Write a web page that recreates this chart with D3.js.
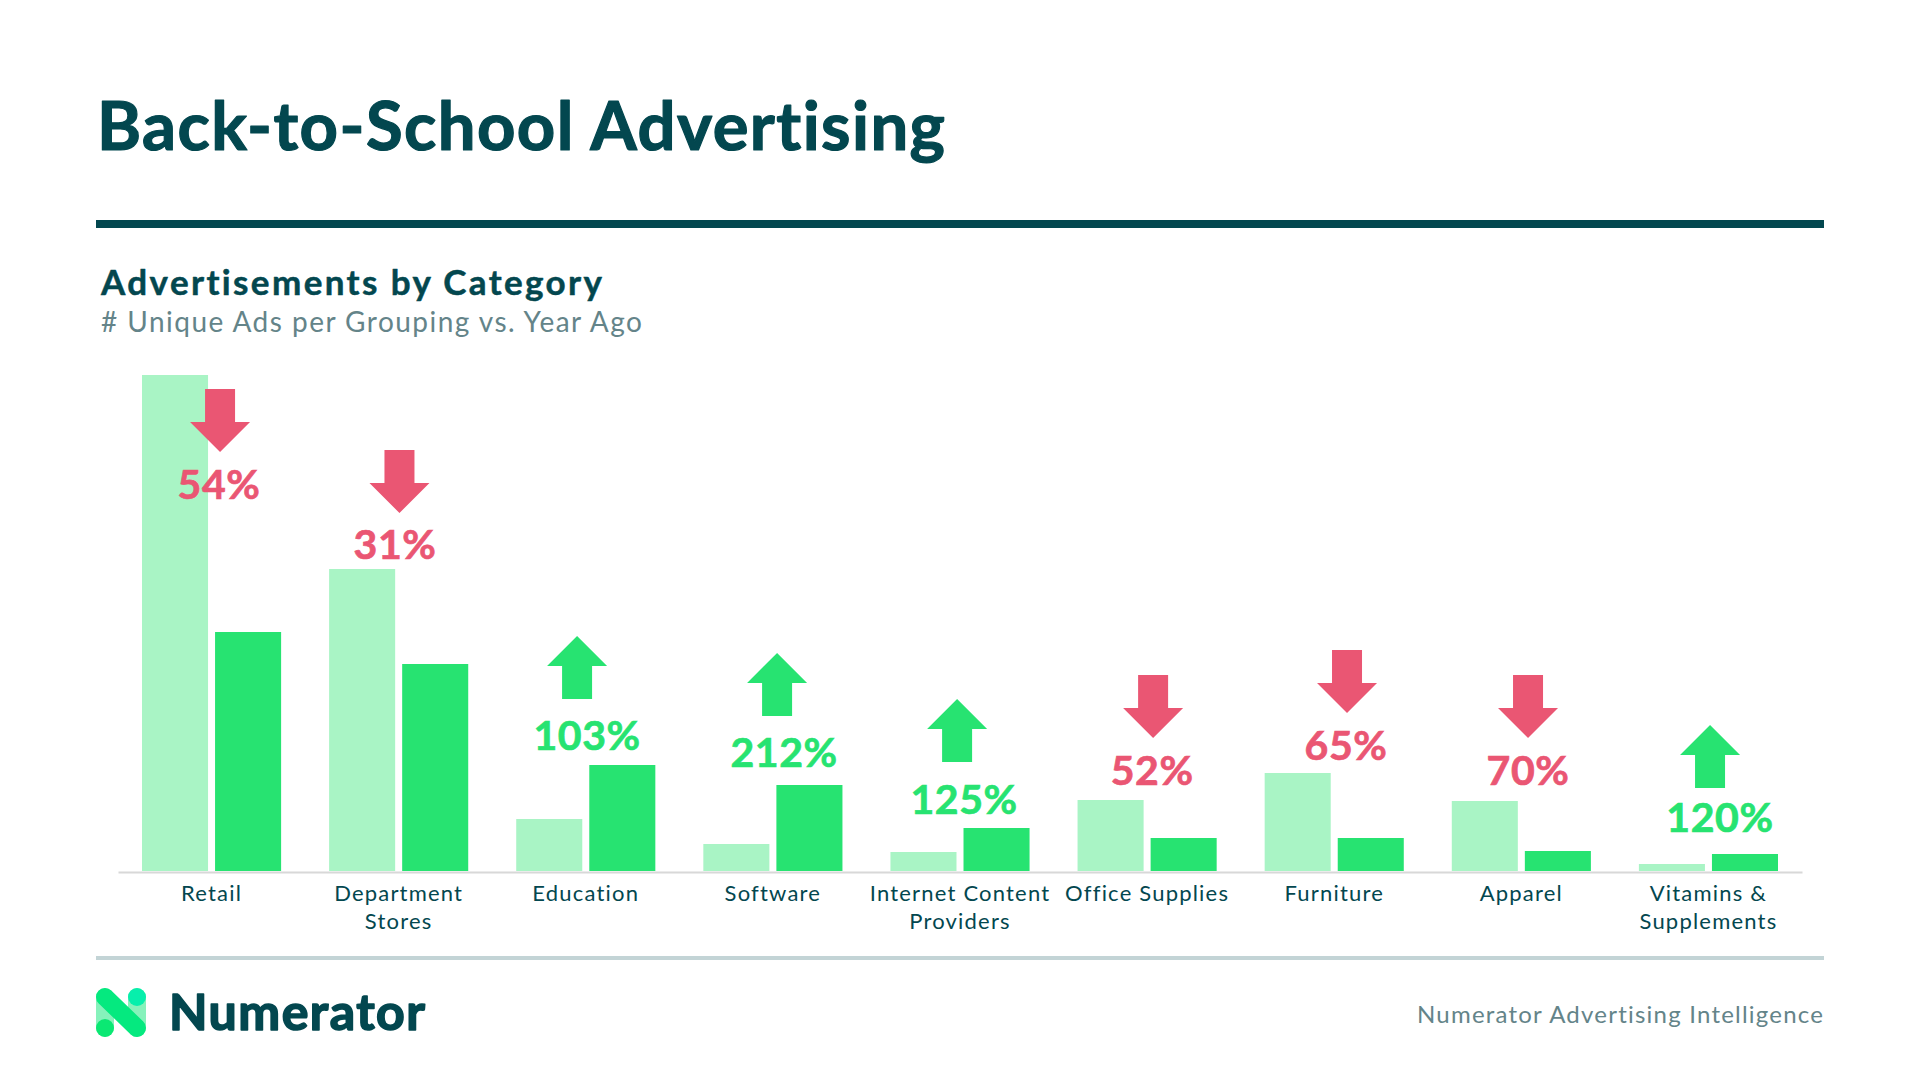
<!DOCTYPE html>
<html>
<head>
<meta charset="utf-8">
<title>Back-to-School Advertising</title>
<script src="https://cdn.jsdelivr.net/npm/d3@7"></script>
<style>
  html, body { margin: 0; padding: 0; background: #fff; }
  svg { display: block; }
  text { font-family: Lato, "Open Sans", sans-serif; font-variant-ligatures: none; }
</style>
</head>
<body>
<svg id="chart" width="1920" height="1080"></svg>
<script>
// values, no axis in the original so the unit is arbitrary
const categories = ["Retail", "Department Stores", "Education", "Software", "Internet Content Providers",
  "Office Supplies", "Furniture", "Apparel", "Vitamins & Supplements"];
const tickLines = [["Retail"], ["Department", "Stores"], ["Education"], ["Software"], ["Internet Content", "Providers"],
  ["Office Supplies"], ["Furniture"], ["Apparel"], ["Vitamins &", "Supplements"]];
const yearAgo = [496, 302, 52, 27, 19, 71, 98, 70, 7];
const current = [239, 207, 106, 86, 43, 33, 33, 20, 17];
const changeLabels = ["54%", "31%", "103%", "212%", "125%", "52%", "65%", "70%", "120%"];
const changeUp = [false, false, true, true, true, false, false, false, true];

const DARK = "#03474f", GREEN = "#27e371", PALE = "#a9f4c5", RED = "#ea5673", GREY = "#648489";

// the arrows and labels were placed by hand in the original, so they need nudging per group
const arrowShift = [8.5, 0.8, -8.7, 4.2, -2.9, 6, 12.8, 6.7, 1.6];
const labelShift = [7.5, -3.6, 1.3, 11.2, 4.1, 5, 11.8, 6.7, 11.6];
const arrowLift = [-14, 119, 129, 132, 129, 125, 123, 126, 129];
const labelLift = [-124, 10, 15, 18, 14, 15, 13, 16, 22];

const svg = d3.select("#chart");

function addText(str, x, y, size, weight, fill, width, anchor, thicken) {
  const t = svg.append("text")
    .attr("x", x).attr("y", y)
    .attr("font-size", size).attr("font-weight", weight)
    .attr("fill", fill).attr("text-anchor", anchor || "start")
    .text(str);
  if (width) t.attr("textLength", width).attr("lengthAdjust", "spacing");
  // Lato bold is a bit lighter than the original face
  if (thicken) t.attr("stroke", fill).attr("stroke-width", thicken).attr("stroke-linejoin", "round");
  return t;
}

// header
addText("Back-to-School Advertising", 97, 150, 67, 700, DARK, 848, "start", 1.2);
svg.append("rect").attr("x", 96).attr("y", 220).attr("width", 1728).attr("height", 8).attr("fill", DARK);
addText("Advertisements by Category", 101, 295, 35, 700, DARK, 501, "start", 0.5);
addText("# Unique Ads per Grouping vs. Year Ago", 101, 332, 28, 400, GREY, 541);

// scales
const x = d3.scaleBand().domain(categories).range([118, 1802])
  .paddingInner(48 / 187.11).paddingOuter(24 / 187.11);
const series = d3.scaleBand().domain(["yearAgo", "current"]).range([0, x.bandwidth()]).paddingInner(0.096);
const y = d3.scaleLinear().domain([0, d3.max(yearAgo)]).range([871, 375]);

// bars
const rows = categories.map((c, i) => ({ c, i, yearAgo: yearAgo[i], current: current[i] }));
const groups = svg.append("g").selectAll("g").data(rows).enter().append("g")
  .attr("transform", d => `translate(${x(d.c)},0)`);
groups.append("rect")
  .attr("x", series("yearAgo")).attr("width", series.bandwidth())
  .attr("y", d => y(d.yearAgo)).attr("height", d => y(0) - y(d.yearAgo))
  .attr("fill", PALE);
groups.append("rect")
  .attr("x", series("current")).attr("width", series.bandwidth())
  .attr("y", d => y(d.current)).attr("height", d => y(0) - y(d.current))
  .attr("fill", GREEN);

// axis
const axis = svg.append("g").attr("transform", "translate(0,872)")
  .call(d3.axisBottom(x).tickSize(0).tickSizeOuter(0).tickFormat(""));
axis.select(".domain").attr("stroke", "#d8d8d8").attr("stroke-width", 2);
axis.selectAll(".tick text").each(function (d, i) {
  const t = d3.select(this).attr("y", 29).attr("dy", null)
    .attr("font-size", 22).attr("fill", DARK).attr("letter-spacing", 1.2)
    .attr("font-family", "Lato");
  tickLines[i].forEach((line, j) => {
    t.append("tspan").attr("x", 0).attr("y", 29 + j * 28).text(line);
  });
});

// change arrows, drawn pointing down then flipped for the rises
const arrowPath = d3.path();
arrowPath.moveTo(-15, 0);
arrowPath.lineTo(15, 0);
arrowPath.lineTo(15, 33);
arrowPath.lineTo(30, 33);
arrowPath.lineTo(0, 63);
arrowPath.lineTo(-30, 33);
arrowPath.lineTo(-15, 33);
arrowPath.closePath();

const center = d => x(d.c) + x.bandwidth() / 2;
const barTop = d => y(Math.max(d.yearAgo, d.current));

svg.append("g").selectAll("path").data(rows).enter().append("path")
  .attr("d", arrowPath.toString())
  .attr("fill", d => changeUp[d.i] ? GREEN : RED)
  .attr("transform", d => {
    const cx = center(d) + arrowShift[d.i];
    const top = barTop(d) - arrowLift[d.i];
    return changeUp[d.i] ? `translate(${cx},${top + 63}) scale(1,-1)` : `translate(${cx},${top})`;
  });

svg.append("g").selectAll("text").data(rows).enter().append("text")
  .attr("x", d => center(d) + labelShift[d.i])
  .attr("y", d => barTop(d) - labelLift[d.i])
  .attr("text-anchor", "middle")
  .attr("font-size", 41).attr("font-weight", 700).attr("letter-spacing", 0.6)
  .attr("stroke-width", 0.7).attr("stroke", d => changeUp[d.i] ? GREEN : RED)
  .attr("fill", d => changeUp[d.i] ? GREEN : RED)
  .text(d => changeLabels[d.i]);

// footer
svg.append("rect").attr("x", 96).attr("y", 956).attr("width", 1728).attr("height", 4).attr("fill", "#c3d4d6");
const logo = svg.append("g").attr("fill", "none").attr("stroke-width", 18).attr("stroke-linecap", "round");
logo.append("line").attr("x1", 105).attr("y1", 997).attr("x2", 105).attr("y2", 1028).attr("stroke", "#86f2bb");
logo.append("line").attr("x1", 137).attr("y1", 997).attr("x2", 137).attr("y2", 1028).attr("stroke", "#86f2bb");
logo.append("circle").attr("cx", 105).attr("cy", 1028).attr("r", 9).attr("fill", "#0be873").attr("stroke", "none");
logo.append("circle").attr("cx", 137).attr("cy", 997).attr("r", 9).attr("fill", "#07efac").attr("stroke", "none");
logo.append("line").attr("x1", 105).attr("y1", 997).attr("x2", 137).attr("y2", 1028).attr("stroke", "#05e97f");
addText("Numerator", 169, 1030, 50, 700, DARK, 256, "start", 1.6);
addText("Numerator Advertising Intelligence", 1823, 1023, 24, 400, GREY, 406, "end");
</script>
</body>
</html>
